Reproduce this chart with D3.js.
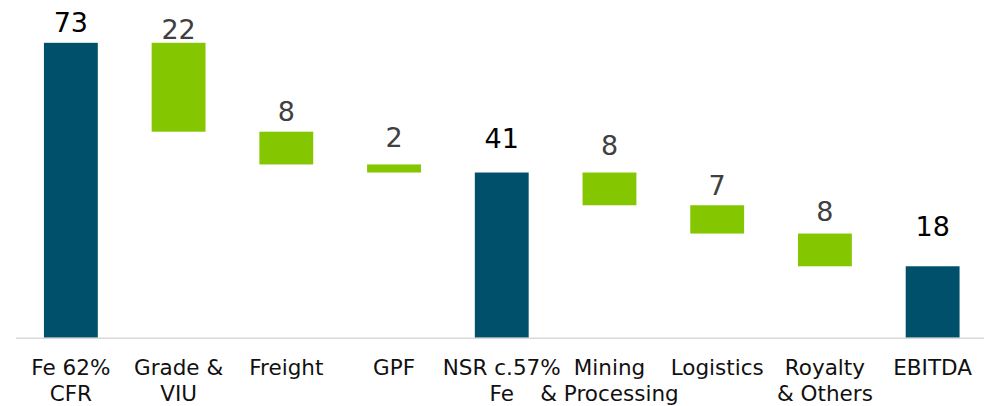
<!DOCTYPE html>
<html>
<head>
<meta charset="utf-8">
<script src="https://cdn.jsdelivr.net/npm/d3@7"></script>
<style>
  html, body { margin: 0; padding: 0; background: #ffffff; }
  svg { display: block; }
</style>
</head>
<body>
<svg id="chart" width="984" height="406"></svg>
<script>
// ---- Data ----
const categories = ["Fe 62%\nCFR", "Grade &\nVIU", "Freight", "GPF", "NSR c.57%\nFe",
                    "Mining\n& Processing", "Logistics", "Royalty\n& Others", "EBITDA"];
const values = [73, -22, -8.1, -2, 40.9, -8.1, -7.0, -8.1, 17.7];
const kinds = ["total", "change", "change", "change", "total", "change", "change", "change", "total"];

// ---- Layout / style ----
const W = 984, H = 406;
const colors = { total: "#004f6b", change: "#84c600" };
const labelColors = { total: "#000000", change: "#404040" };
const labelGap = [11, 4, 11, 17, 25, 18, 10, 13, 30]; // distance of value label above bar top

// compute running positions
let running = 0;
const bars = categories.map((c, i) => {
  const v = values[i];
  let y0, y1;
  if (kinds[i] === "total") { y0 = 0; y1 = v; running = v; }
  else { y0 = running; y1 = running + v; running = y1; }
  return { cat: c, value: v, kind: kinds[i], lo: Math.min(y0, y1), hi: Math.max(y0, y1), i };
});

const svg = d3.select("#chart");
const x = d3.scaleBand().domain(categories).range([17, 986.5]).paddingInner(0.5).paddingOuter(0.25);
const y = d3.scaleLinear().domain([0, 73]).range([337.8, 42.8]);

// bars
svg.append("g").selectAll("rect").data(bars).join("rect")
  .attr("x", d => x(d.cat))
  .attr("width", x.bandwidth())
  .attr("y", d => y(d.hi))
  .attr("height", d => y(d.lo) - y(d.hi))
  .attr("fill", d => colors[d.kind]);

// axis line
svg.append("line")
  .attr("x1", 16).attr("x2", W)
  .attr("y1", y(0) + 0.5).attr("y2", y(0) + 0.5)
  .attr("stroke", "#d9d9d9").attr("stroke-width", 1.5);

// value labels
svg.append("g").selectAll("text").data(bars).join("text")
  .attr("x", d => x(d.cat) + x.bandwidth() / 2)
  .attr("y", d => y(d.hi) - labelGap[d.i])
  .attr("text-anchor", "middle")
  .attr("font-family", "'DejaVu Sans', Verdana, sans-serif")
  .attr("font-size", 27)
  .attr("fill", d => labelColors[d.kind])
  .text(d => d3.format(".0f")(Math.abs(d.value)));

// category labels
const cl = svg.append("g").selectAll("text").data(bars).join("text")
  .attr("x", d => x(d.cat) + x.bandwidth() / 2)
  .attr("y", 375)
  .attr("text-anchor", "middle")
  .attr("font-family", "'DejaVu Sans', Verdana, sans-serif")
  .attr("font-size", 21.5)
  .attr("fill", "#111111");
cl.selectAll("tspan").data(d => d.cat.split("\n").map(t => ({ t, x: x(d.cat) + x.bandwidth() / 2 })))
  .join("tspan")
  .attr("x", t => t.x)
  .attr("dy", (t, j) => j === 0 ? 0 : 26)
  .text(t => t.t);
</script>
</body>
</html>
